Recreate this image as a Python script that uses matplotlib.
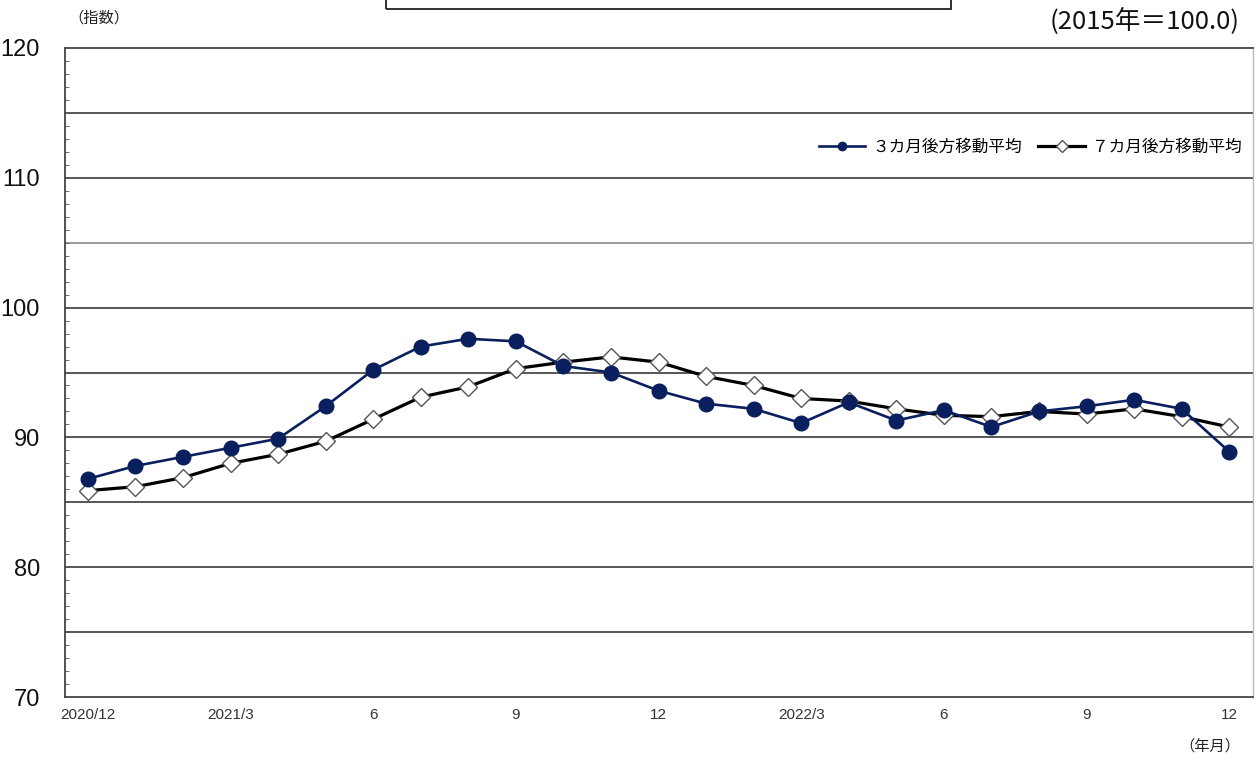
import matplotlib
matplotlib.use("Agg")
import matplotlib.pyplot as plt
from matplotlib.patches import Rectangle
from matplotlib.ticker import MultipleLocator

months = ["2020/12", "2021/1", "2021/2", "2021/3", "2021/4", "2021/5", "2021/6",
          "2021/7", "2021/8", "2021/9", "2021/10", "2021/11", "2021/12",
          "2022/1", "2022/2", "2022/3", "2022/4", "2022/5", "2022/6",
          "2022/7", "2022/8", "2022/9", "2022/10", "2022/11", "2022/12"]
ma3 = [86.8, 87.8, 88.5, 89.2, 89.9, 92.4, 95.2, 97.0, 97.6, 97.4, 95.5, 95.0, 93.6,
       92.6, 92.2, 91.1, 92.7, 91.3, 92.1, 90.8, 92.0, 92.4, 92.9, 92.2, 88.9]
ma7 = [85.9, 86.2, 86.9, 88.0, 88.7, 89.7, 91.4, 93.1, 93.9, 95.3, 95.8, 96.2, 95.8,
       94.7, 94.0, 93.0, 92.8, 92.2, 91.7, 91.6, 92.0, 91.8, 92.2, 91.6, 90.8]
tick_idx = [0, 3, 6, 9, 12, 15, 18, 21, 24]
tick_labels = ["2020/12", "2021/3", "6", "9", "12", "2022/3", "6", "9", "12"]
series_names = ["３カ月後方移動平均", "７カ月後方移動平均"]

cjk = ["Noto Sans CJK JP", "DejaVu Sans"]
num_font = ["Liberation Sans", "Noto Sans CJK JP", "DejaVu Sans"]

plt.rcParams['font.family'] = cjk

W, H = 1256, 758
fig = plt.figure(figsize=(W / 100, H / 100), dpi=100)
ax = fig.add_axes([65 / W, (H - 697) / H, (1253 - 65) / W, (697 - 48) / H])

x = list(range(len(months)))
navy = "#0a1f5e"
ax.plot(x, ma3, color=navy, lw=1.9, marker="o", ms=10.5, mfc=navy, mec=navy,
        label=series_names[0], zorder=4)
ax.plot(x, ma7, color="black", lw=2.3, marker="D", ms=9, mfc="white", mec="#555555",
        mew=1.0, label=series_names[1], zorder=3)

ax.set_xlim(-0.48, 24.5)
ax.set_ylim(70, 120)
ax.set_yticks(range(70, 121, 10))
ax.yaxis.set_minor_locator(MultipleLocator(1))
for v in range(75, 120, 5):
    col = "#8a8a8a" if v == 105 else "#3a3a3a"
    ax.axhline(v, color=col, lw=1.2, zorder=1)

ax.set_xticks(tick_idx)
ax.set_xticklabels(tick_labels, fontsize=11, color="#333333", family=num_font)
for lab in ax.get_yticklabels():
    lab.set_family(num_font)
ax.tick_params(axis="y", which="major", length=0, labelsize=17, pad=18, labelcolor="#111111")
ax.tick_params(axis="y", which="minor", length=3, direction="in", color="#555555")
ax.tick_params(axis="x", length=0, pad=8)

for s in ["left", "bottom", "top"]:
    ax.spines[s].set_color("#444444")
    ax.spines[s].set_linewidth(1.3)
ax.spines["right"].set_color("#bbbbbb")
ax.spines["right"].set_linewidth(1.0)

leg = ax.legend(loc="center right", bbox_to_anchor=(1.0, 1 - 99 / 649), ncol=2, frameon=False,
                fontsize=12, handlelength=2.8, columnspacing=1.0, handletextpad=0.4,
                borderaxespad=0.3)
for h in leg.legend_handles:
    h.set_markersize(6)

fig.text(68 / W, 1 - 18 / H, "（指数）", fontsize=11, ha="left", va="center", color="#222222")
fig.text(1240 / W, 1 - 21 / H, "(2015年＝100.0)", fontsize=18.5, ha="right", va="center",
         color="#111111", family=["Noto Sans CJK JP", "DejaVu Sans"])
fig.text(1240 / W, 1 - 746 / H, "（年月）", fontsize=11, ha="right", va="center", color="#222222")

fig.patches.append(Rectangle((386 / W, 1 - 9 / H), (951 - 386) / W, 30 / H,
                             transform=fig.transFigure, fill=False, ec="#222222",
                             lw=1.3, clip_on=False))

fig.savefig("out.png", dpi=100)
